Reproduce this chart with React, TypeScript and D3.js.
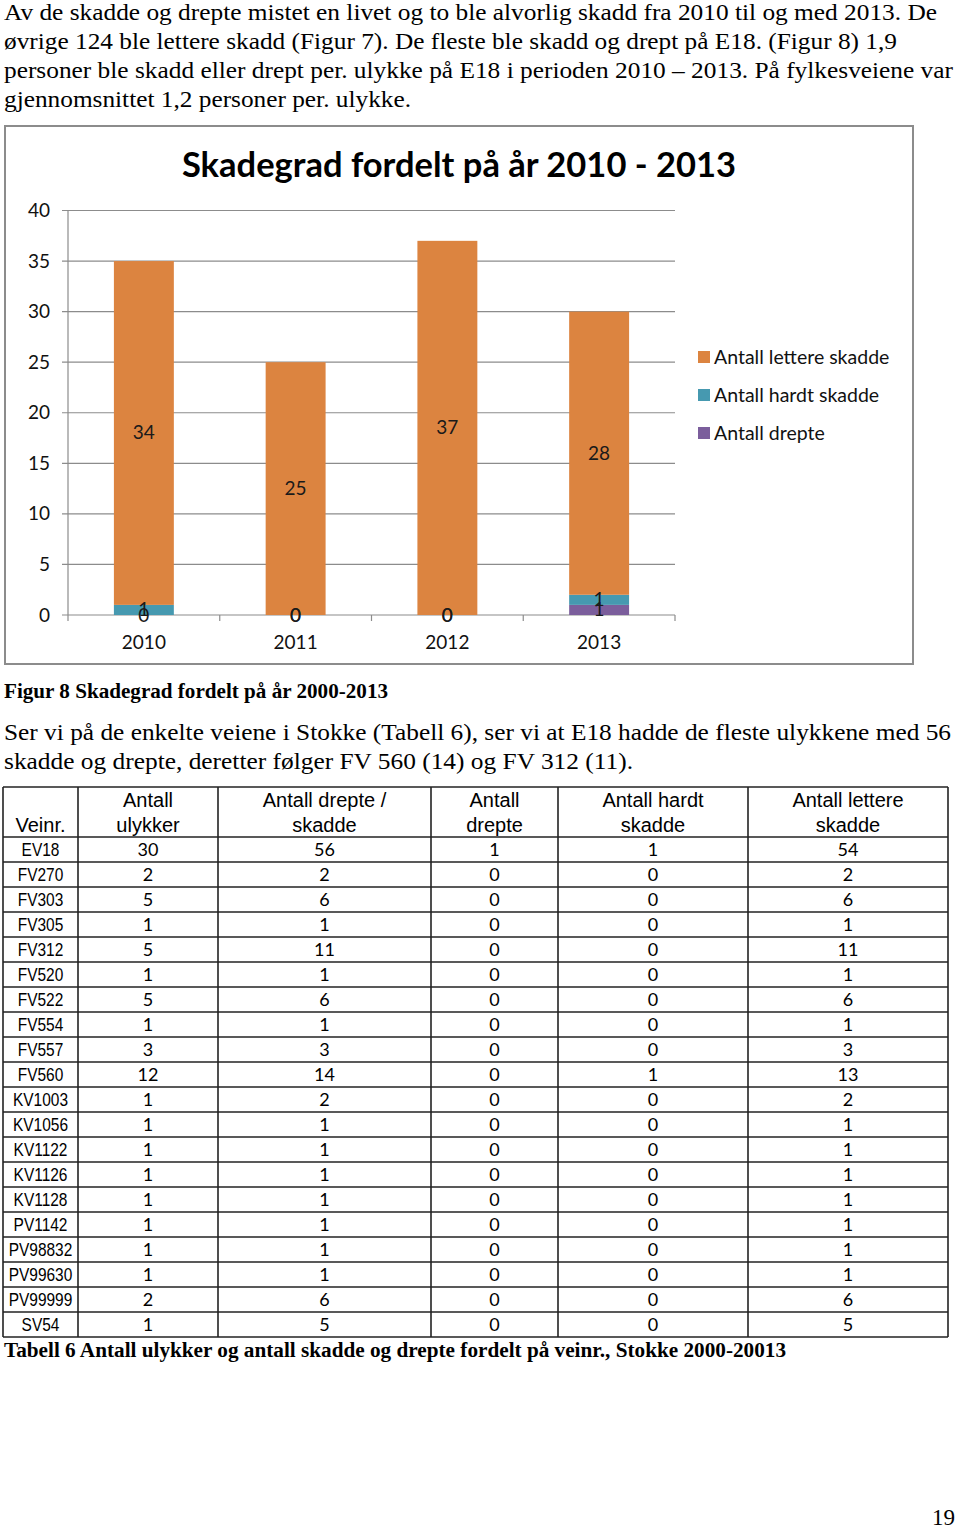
import React from "react";
import * as d3 from "d3";

// ---- Chart data ----
const years = ["2010", "2011", "2012", "2013"];
const lettereSkadde = [34, 25, 37, 28];
const hardtSkadde = [1, 0, 0, 1];
const drepte = [0, 0, 0, 1];
const yTicks = [0, 5, 10, 15, 20, 25, 30, 35, 40];
const seriesNames = ["Antall lettere skadde", "Antall hardt skadde", "Antall drepte"];

// ---- Table data ----
const roads = ["EV18", "FV270", "FV303", "FV305", "FV312", "FV520", "FV522", "FV554", "FV557", "FV560", "KV1003", "KV1056", "KV1122", "KV1126", "KV1128", "PV1142", "PV98832", "PV99630", "PV99999", "SV54"];
const accidents = [30, 2, 5, 1, 5, 1, 5, 1, 3, 12, 1, 1, 1, 1, 1, 1, 1, 1, 2, 1];
const injuredTotal = [56, 2, 6, 1, 11, 1, 6, 1, 3, 14, 2, 1, 1, 1, 1, 1, 1, 1, 6, 5];
const killed = [1, 0, 0, 0, 0, 0, 0, 0, 0, 0, 0, 0, 0, 0, 0, 0, 0, 0, 0, 0];
const serious = [1, 0, 0, 0, 0, 0, 0, 0, 0, 1, 0, 0, 0, 0, 0, 0, 0, 0, 0, 0];
const light = [54, 2, 6, 1, 11, 1, 6, 1, 3, 13, 2, 1, 1, 1, 1, 1, 1, 1, 6, 5];
const headers = [["", "Veinr."], ["Antall", "ulykker"], ["Antall drepte /", "skadde"], ["Antall", "drepte"], ["Antall hardt", "skadde"], ["Antall lettere", "skadde"]];

const bodyLines1 = [
  "Av de skadde og drepte mistet en livet og to ble alvorlig skadd fra 2010 til og med 2013. De",
  "øvrige 124 ble lettere skadd (Figur 7). De fleste ble skadd og drept på E18. (Figur 8) 1,9",
  "personer ble skadd eller drept per. ulykke på E18 i perioden 2010 – 2013. På fylkesveiene var",
  "gjennomsnittet 1,2 personer per. ulykke.",
];
const bodyWidths1 = [933, 893, 949, 407];
const bodyLines2 = [
  "Ser vi på de enkelte veiene i Stokke (Tabell 6), ser vi at E18 hadde de fleste ulykkene med 56",
  "skadde og drepte, deretter følger FV 560 (14) og FV 312 (11).",
];
const bodyWidths2 = [947, 629];

const SERIF = "'Liberation Serif', 'Times New Roman', serif";
const CAL = "Lato, 'Open Sans', sans-serif";
const ARIAL = "'Liberation Sans', Arial, sans-serif";

const COLORS: Record<string, string> = {
  drepte: "#7B5E9C",
  hardt: "#4699B0",
  lettere: "#DC8440",
};

export default function App() {
  const rows = years.map((y, i) => ({ year: y, drepte: drepte[i], hardt: hardtSkadde[i], lettere: lettereSkadde[i] }));
  const stack = d3.stack<any>().keys(["drepte", "hardt", "lettere"]);
  const stacked = stack(rows);

  const x = d3.scaleBand().domain(years).range([68, 675]).padding(0);
  const y = d3.scaleLinear().domain([0, 40]).range([615, 210.5]);
  const barW = x.bandwidth() * 0.395;

  const legendItems = [
    { key: "lettere", name: seriesNames[0] },
    { key: "hardt", name: seriesNames[1] },
    { key: "drepte", name: seriesNames[2] },
  ];

  // table geometry
  const colX = [3, 78, 218, 431, 558, 748, 948];
  const tableTop = 787;
  const headerH = 50;
  const rowH = 25;
  const rowIdx = d3.range(roads.length);
  const tableBottom = tableTop + headerH + rowH * roads.length;

  const cols = [accidents, injuredTotal, killed, serious, light];

  return (
    <svg width={960} height={1531} style={{ position: "absolute", left: 0, top: 0, background: "#fff" }}>
      <rect x={0} y={0} width={960} height={1531} fill="#fff" />
      {/* body text */}
      {bodyLines1.map((t, i) => (
        <text key={i} x={4} y={20 + i * 29} fontFamily={SERIF} fontSize={24} fill="#000" textLength={bodyWidths1[i]} lengthAdjust="spacingAndGlyphs">{t}</text>
      ))}

      {/* chart frame */}
      <rect x={5} y={126} width={908} height={538} fill="#fff" stroke="#8c8c8c" strokeWidth={2} />
      <text x={459} y={177} textAnchor="middle" fontFamily={CAL} fontWeight="bold" fontSize={34.5} fill="#000">
        Skadegrad fordelt på år 2010 - 2013
      </text>

      {/* gridlines + y axis */}
      {yTicks.map((t) => (
        <g key={t}>
          <line x1={62} x2={675} y1={y(t)} y2={y(t)} stroke="#8c8c8c" strokeWidth={1.2} />
          <text x={50} y={y(t) + 6.5} textAnchor="end" fontFamily={CAL} fontSize={19} fill="#111">{t}</text>
        </g>
      ))}
      <line x1={68} x2={68} y1={y(40)} y2={y(0)} stroke="#8c8c8c" strokeWidth={1.2} />
      {/* x tick marks */}
      {[...years.map((yr) => x(yr) as number), 675].map((px, i) => (
        <line key={i} x1={px} x2={px} y1={y(0)} y2={y(0) + 6} stroke="#8c8c8c" strokeWidth={1.2} />
      ))}

      {/* bars */}
      {stacked.map((s) => (
        <g key={s.key} fill={COLORS[s.key]}>
          {s.map((d, i) => {
            const cx = (x(years[i]) as number) + x.bandwidth() / 2;
            return <rect key={i} x={cx - barW / 2} y={y(d[1])} width={barW} height={y(d[0]) - y(d[1])} />;
          })}
        </g>
      ))}
      {/* data labels */}
      {stacked.map((s) => (
        <g key={"l" + s.key}>
          {s.map((d, i) => {
            const cx = (x(years[i]) as number) + x.bandwidth() / 2;
            const cy = y((d[0] + d[1]) / 2);
            return (
              <text key={i} x={cx} y={cy + 6.5} textAnchor="middle" fontFamily={CAL} fontSize={19} fill="#1a1a1a">
                {d[1] - d[0]}
              </text>
            );
          })}
        </g>
      ))}
      {/* category labels */}
      {years.map((yr) => (
        <text key={yr} x={(x(yr) as number) + x.bandwidth() / 2} y={649} textAnchor="middle" fontFamily={CAL} fontSize={19} fill="#111">
          {yr}
        </text>
      ))}

      {/* legend */}
      {legendItems.map((it, i) => (
        <g key={it.key} transform={`translate(698, ${357 + i * 38})`}>
          <rect x={0} y={-6} width={12} height={12} fill={COLORS[it.key]} />
          <text x={16} y={6.5} fontFamily={CAL} fontSize={19.5} fill="#111">{it.name}</text>
        </g>
      ))}

      {/* figure caption */}
      <text x={4} y={698} fontFamily={SERIF} fontWeight="bold" fontSize={20} fill="#000" textLength={384} lengthAdjust="spacingAndGlyphs">Figur 8 Skadegrad fordelt på år 2000-2013</text>

      {bodyLines2.map((t, i) => (
        <text key={i} x={4} y={740 + i * 29} fontFamily={SERIF} fontSize={24} fill="#000" textLength={bodyWidths2[i]} lengthAdjust="spacingAndGlyphs">{t}</text>
      ))}

      {/* table */}
      <g>
        {headers.map((h, c) => {
          const cx = (colX[c] + colX[c + 1]) / 2;
          return (
            <g key={c}>
              <text x={cx} y={807} textAnchor="middle" fontFamily={ARIAL} fontSize={20} fill="#000">{h[0]}</text>
              <text x={cx} y={832} textAnchor="middle" fontFamily={ARIAL} fontSize={20} fill="#000">{h[1]}</text>
            </g>
          );
        })}
        {rowIdx.map((r) => {
          const top = tableTop + headerH + r * rowH;
          const base = top + 19;
          const cx0 = (colX[0] + colX[1]) / 2;
          return (
            <g key={r}>
              <text transform={`translate(${cx0}, ${base}) scale(0.86, 1)`} textAnchor="middle" fontFamily={ARIAL} fontSize={18} fill="#000">
                {roads[r]}
              </text>
              {cols.map((arr, c) => (
                <text key={c} x={(colX[c + 1] + colX[c + 2]) / 2} y={base} textAnchor="middle" fontFamily={CAL} fontSize={18} fill="#000">
                  {arr[r]}
                </text>
              ))}
            </g>
          );
        })}
        {/* horizontal lines */}
        {[tableTop, tableTop + headerH, ...rowIdx.map((r) => tableTop + headerH + (r + 1) * rowH)].map((ly, i) => (
          <line key={"h" + i} x1={colX[0]} x2={colX[6]} y1={ly} y2={ly} stroke="#222" strokeWidth={1.6} />
        ))}
        {colX.map((lx, i) => (
          <line key={"v" + i} x1={lx} x2={lx} y1={tableTop} y2={tableBottom} stroke="#222" strokeWidth={1.6} />
        ))}
      </g>

      <text x={4} y={1357} fontFamily={SERIF} fontWeight="bold" fontSize={20} fill="#000" textLength={782} lengthAdjust="spacingAndGlyphs">
        Tabell 6 Antall ulykker og antall skadde og drepte fordelt på veinr., Stokke 2000-20013
      </text>

      <text x={955} y={1525} textAnchor="end" fontFamily={SERIF} fontSize={23} fill="#000">19</text>
    </svg>
  );
}
